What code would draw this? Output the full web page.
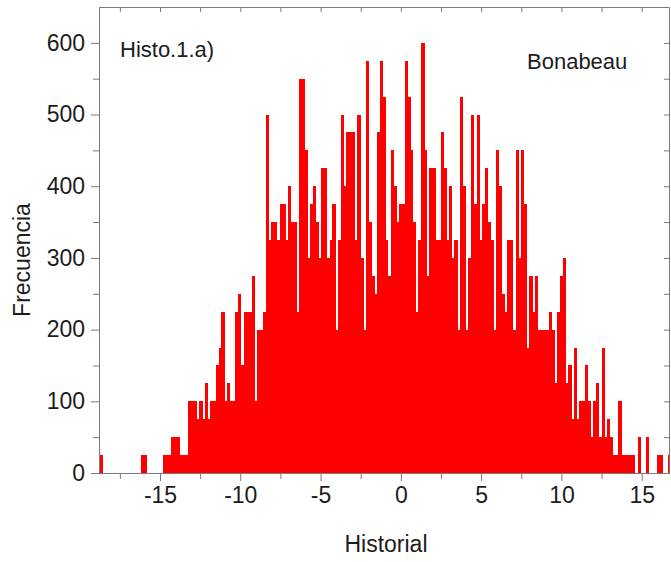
<!DOCTYPE html>
<html>
<head>
<meta charset="utf-8">
<script src="https://cdn.jsdelivr.net/npm/d3@7"></script>
<style>
  body { margin: 0; background: #fff; }
</style>
</head>
<body>
<div id="chart"></div>
<script>
'use strict'

// histogram bins: first left edge and width, in "Historial" units
var binStart = -18.78
var binWidth = 0.1728

// frequency per bin left to right
var frequencies = [
  25, 0, 0, 0, 0, 0, 0, 0, 0, 0, 0, 0, 0, 0, 0, 25, 25, 0, 0, 0, 0, 0, 0,
  25, 25, 25, 50, 50, 50, 25, 25, 25,
  100, 100, 100, 75, 100, 75, 125, 75, 100, 100, 150, 175, 225, 100, 125,
  100, 100, 225, 250, 150, 225, 225, 225, 275, 100, 200, 200, 225, 500, 325,
  350, 350, 325, 375, 375, 325, 400, 350, 350,
  225, 550, 550, 450, 300, 375, 400, 350, 300, 425, 425, 300, 325, 375, 200,
  325, 500, 400, 475, 475, 475, 325, 500, 300, 200, 575, 350, 275, 250, 475,
  575, 525, 325, 275, 450, 400, 350, 375, 375,
  575, 525, 450, 350, 225, 325, 600, 450, 275, 425, 425, 325, 325, 475, 425,
  325, 400, 300, 325, 200, 525, 400, 200, 300, 500, 375, 500, 325, 375, 425,
  350, 325, 200, 450, 400, 250, 225, 325, 325, 200, 450, 300, 450, 375, 175,
  275, 225, 275,
  200, 200, 200, 200, 225, 200, 125, 225, 275, 300, 125, 150, 75, 175, 75,
  100, 100, 150, 100, 50, 100, 125, 50, 175, 50, 75, 50, 25, 25, 100, 25, 25,
  25, 25, 25, 0, 50, 0, 0, 50, 0, 0, 0, 25, 25, 0, 0, 25
]

var xDomain = [-18.8, 16.7]
var yDomain = [0, 650]
var xTicks = [-15, -10, -5, 0, 5, 10, 15]
var xMinorTicks = [-17.5, -12.5, -7.5, -2.5, 2.5, 7.5, 12.5]
var yTicks = [0, 100, 200, 300, 400, 500, 600]
var yMinorTicks = [50, 150, 250, 350, 450, 550]

var xLabel = 'Historial'
var yLabel = 'Frecuencia'
var panelLabel = 'Histo.1.a)'
var modelLabel = 'Bonabeau'

var W = 671
var H = 562
var margin = { top: 7, right: 2, bottom: 89, left: 99 }
var width = W - margin.left - margin.right
var height = H - margin.top - margin.bottom

var fontFamily = '"Liberation Sans", Arial, sans-serif'
var axisColor = '#7a7a7a'
var textColor = '#1c1c1c'

var svg = d3
  .select('#chart')
  .append('svg')
  .attr('width', W)
  .attr('height', H)

var g = svg
  .append('g')
  .attr('transform', 'translate(' + margin.left + ',' + margin.top + ')')

var x = d3
  .scaleLinear()
  .domain(xDomain)
  .range([0, width])

var y = d3
  .scaleLinear()
  .domain(yDomain)
  .range([height, 0])

svg
  .append('defs')
  .append('clipPath')
  .attr('id', 'plot-clip')
  .append('rect')
  .attr('width', width)
  .attr('height', height)

var bins = frequencies.map(function(f, i) {
  return { x0: binStart + i * binWidth, x1: binStart + (i + 1) * binWidth, n: f }
})

g.append('g')
  .attr('clip-path', 'url(#plot-clip)')
  .attr('shape-rendering', 'crispEdges')
  .selectAll('rect')
  .data(bins)
  .enter()
  .append('rect')
  .attr('x', function(d) {
    return x(d.x0)
  })
  .attr('width', function(d) {
    return x(d.x1) - x(d.x0) + 0.6
  })
  .attr('y', function(d) {
    return y(d.n)
  })
  .attr('height', function(d) {
    return height - y(d.n)
  })
  .attr('fill', '#ff0000')

function styleAxis(sel) {
  sel.select('.domain').attr('stroke', axisColor)
  sel.selectAll('.tick line').attr('stroke', axisColor)
  sel
    .selectAll('.tick text')
    .attr('font-family', fontFamily)
    .attr('font-size', '23px')
    .attr('fill', textColor)
}

// bottom
g.append('g')
  .attr('transform', 'translate(0,' + height + ')')
  .call(
    d3
      .axisBottom(x)
      .tickValues(xTicks)
      .tickSize(8)
      .tickSizeOuter(0)
      .tickPadding(6)
      .tickFormat(d3.format('d'))
  )
  .call(styleAxis)
  .selectAll('.tick text')
  .text(function(d) {
    return d < 0 ? '-' + Math.abs(d) : d
  })

g.append('g')
  .attr('transform', 'translate(0,' + height + ')')
  .call(
    d3
      .axisBottom(x)
      .tickValues(xMinorTicks)
      .tickSize(6)
      .tickSizeOuter(0)
      .tickFormat('')
  )
  .call(styleAxis)

// left
g.append('g')
  .call(
    d3
      .axisLeft(y)
      .tickValues(yTicks)
      .tickSize(8)
      .tickSizeOuter(0)
      .tickPadding(6)
  )
  .call(styleAxis)

g.append('g')
  .call(
    d3
      .axisLeft(y)
      .tickValues(yMinorTicks)
      .tickSize(6)
      .tickSizeOuter(0)
      .tickFormat('')
  )
  .call(styleAxis)

// top and right, ticks pointing inside
g.append('g')
  .call(
    d3
      .axisBottom(x)
      .tickValues(xTicks.concat(xMinorTicks))
      .tickSize(5)
      .tickSizeOuter(0)
      .tickFormat('')
  )
  .call(styleAxis)

g.append('g')
  .attr('transform', 'translate(' + width + ',0)')
  .call(
    d3
      .axisLeft(y)
      .tickValues(yTicks.concat(yMinorTicks))
      .tickSize(5)
      .tickSizeOuter(0)
      .tickFormat('')
  )
  .call(styleAxis)

// axis titles
svg
  .append('text')
  .attr('x', 386)
  .attr('y', 552)
  .attr('text-anchor', 'middle')
  .attr('font-family', fontFamily)
  .attr('font-size', '23px')
  .attr('fill', textColor)
  .text(xLabel)

svg
  .append('text')
  .attr('transform', 'translate(30,' + 260 + ') rotate(-90)')
  .attr('text-anchor', 'middle')
  .attr('font-family', fontFamily)
  .attr('font-size', '23px')
  .attr('fill', textColor)
  .text(yLabel)

// labels inside the frame
svg
  .append('text')
  .attr('x', 120)
  .attr('y', 57)
  .attr('font-family', fontFamily)
  .attr('font-size', '22px')
  .attr('fill', textColor)
  .text(panelLabel)

svg
  .append('text')
  .attr('x', 527)
  .attr('y', 69)
  .attr('font-family', fontFamily)
  .attr('font-size', '22px')
  .attr('fill', textColor)
  .text(modelLabel)
</script>
</body>
</html>
